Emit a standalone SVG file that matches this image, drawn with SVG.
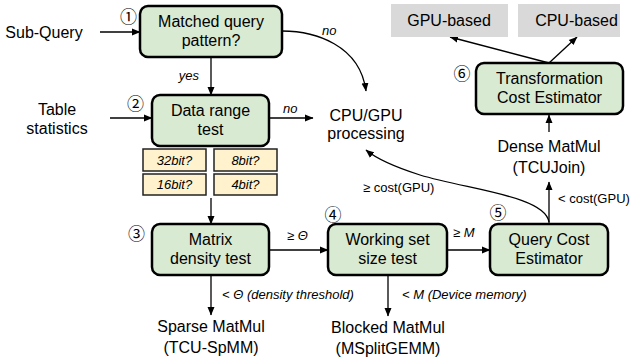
<svg xmlns="http://www.w3.org/2000/svg" width="631" height="360" viewBox="0 0 631 360">
<defs>
<marker id="ah" markerWidth="9" markerHeight="8" refX="8" refY="4" orient="auto" markerUnits="userSpaceOnUse">
<path d="M0,0.5 L8.5,4 L0,7.5 Z" fill="#000"/>
</marker>
<style>
text{font-family:"Liberation Sans",Arial,sans-serif;fill:#000}
.t{font-size:16px;text-anchor:middle}
.l{font-size:13px;font-style:italic}
.n{font-size:13px}
.b{font-size:13px;font-style:italic;text-anchor:middle}
.c{font-family:"Noto Sans CJK JP","Noto Sans CJK SC",sans-serif;font-size:17px;text-anchor:middle}
.box{fill:#d9ead3;stroke:#000;stroke-width:2.5}
.bit{fill:#fff2cc;stroke:#222;stroke-width:1.5}
.gray{fill:#d9d9d9}
.e{fill:none;stroke:#000;stroke-width:1.3;marker-end:url(#ah)}
</style>
</defs>

<g id="connectors">
<path class="e" d="M100,32 L140,32"/>
<path class="e" d="M211,57 L211,95"/>
<path class="e" d="M110,118 L152,118"/>
<path class="e" d="M269,118 L313,118"/>
<path class="e" d="M282,31 C315,31 360,45 366,91"/>
<path class="e" d="M211,198 L211,224"/>
<path class="e" d="M269,250 L328,250"/>
<path class="e" d="M211,275 L211,315"/>
<path class="e" d="M447,250 L490,250"/>
<path class="e" d="M388,275 L388,316"/>
<path class="e" d="M549,223 L549,182"/>
<path class="e" d="M549,222 C545,196 470,190 420,175 C395,167 378,160 366,150"/>
<path class="e" d="M549,132 L549,115"/>
<path class="e" d="M549,63 L450,37"/>
<path class="e" d="M549,63 L577,37"/>
<text class="l" x="199" y="80" text-anchor="end">yes</text>
<text class="l" x="322" y="35">no</text>
<text class="l" x="283" y="113">no</text>
<text class="n" x="287" y="240">≥ <tspan font-style="italic">Θ</tspan></text>
<text class="n" x="453" y="237">≥ <tspan font-style="italic">M</tspan></text>
<text class="l" x="222" y="299">&lt; Θ (density threshold)</text>
<text class="l" x="402" y="299">&lt; M (Device memory)</text>
<text class="n" x="363" y="192">≥ cost(GPU)</text>
<text class="n" x="558" y="203">&lt; cost(GPU)</text>
</g>

<g id="sub-query"><text class="t" x="44" y="38">Sub-Query</text></g>
<g id="table-statistics"><text class="t" x="57" y="115">Table</text><text class="t" x="57" y="134">statistics</text></g>

<g id="n1">
<rect class="box" x="140" y="6" width="142" height="51" rx="8"/>
<text class="t" x="211" y="27">Matched query</text>
<text class="t" x="211" y="46">pattern?</text>
<text class="c" x="128.5" y="22.5">①</text>
</g>

<g id="n2">
<rect class="box" x="152" y="95" width="117" height="51" rx="8"/>
<text class="t" x="210.5" y="116">Data range</text>
<text class="t" x="210.5" y="135">test</text>
<text class="c" x="135.5" y="110">②</text>
</g>

<g id="bits">
<rect class="bit" x="143" y="149" width="63" height="22"/>
<rect class="bit" x="214" y="149" width="63" height="22"/>
<rect class="bit" x="143" y="174" width="63" height="21"/>
<rect class="bit" x="214" y="174" width="63" height="21"/>
<text class="b" x="174.5" y="165">32bit?</text>
<text class="b" x="245.5" y="165">8bit?</text>
<text class="b" x="174.5" y="189">16bit?</text>
<text class="b" x="245.5" y="189">4bit?</text>
</g>

<g id="n3">
<rect class="box" x="152" y="224" width="117" height="51" rx="8"/>
<text class="t" x="210.5" y="245">Matrix</text>
<text class="t" x="210.5" y="264">density test</text>
<text class="c" x="136.5" y="240">③</text>
</g>

<g id="n4">
<rect class="box" x="328" y="224" width="119" height="51" rx="8"/>
<text class="t" x="387.5" y="245">Working set</text>
<text class="t" x="387.5" y="264">size test</text>
<text class="c" x="333" y="220.5">④</text>
</g>

<g id="n5">
<rect class="box" x="490" y="224" width="118" height="51" rx="8"/>
<text class="t" x="549" y="245">Query Cost</text>
<text class="t" x="549" y="264">Estimator</text>
<text class="c" x="498" y="218.5">⑤</text>
</g>

<g id="n6">
<rect class="box" x="476" y="63" width="147" height="51" rx="8"/>
<text class="t" x="549.5" y="84">Transformation</text>
<text class="t" x="549.5" y="103">Cost Estimator</text>
<text class="c" x="462" y="79.5">⑥</text>
</g>

<g id="gpu-based"><rect class="gray" x="391" y="4" width="117" height="33"/><text class="t" x="449" y="26">GPU-based</text></g>
<g id="cpu-based"><rect class="gray" x="518" y="4" width="102" height="33"/><text class="t" x="576.5" y="26">CPU-based</text></g>

<g id="cpu-gpu"><text class="t" x="366" y="121">CPU/GPU</text><text class="t" x="366" y="139">processing</text></g>
<g id="dense"><text class="t" x="549" y="152">Dense MatMul</text><text class="t" x="549" y="173">(TCUJoin)</text></g>
<g id="sparse"><text class="t" x="211" y="332">Sparse MatMul</text><text class="t" x="211" y="353">(TCU-SpMM)</text></g>
<g id="blocked"><text class="t" x="388" y="333">Blocked MatMul</text><text class="t" x="388" y="354">(MSplitGEMM)</text></g>
</svg>
